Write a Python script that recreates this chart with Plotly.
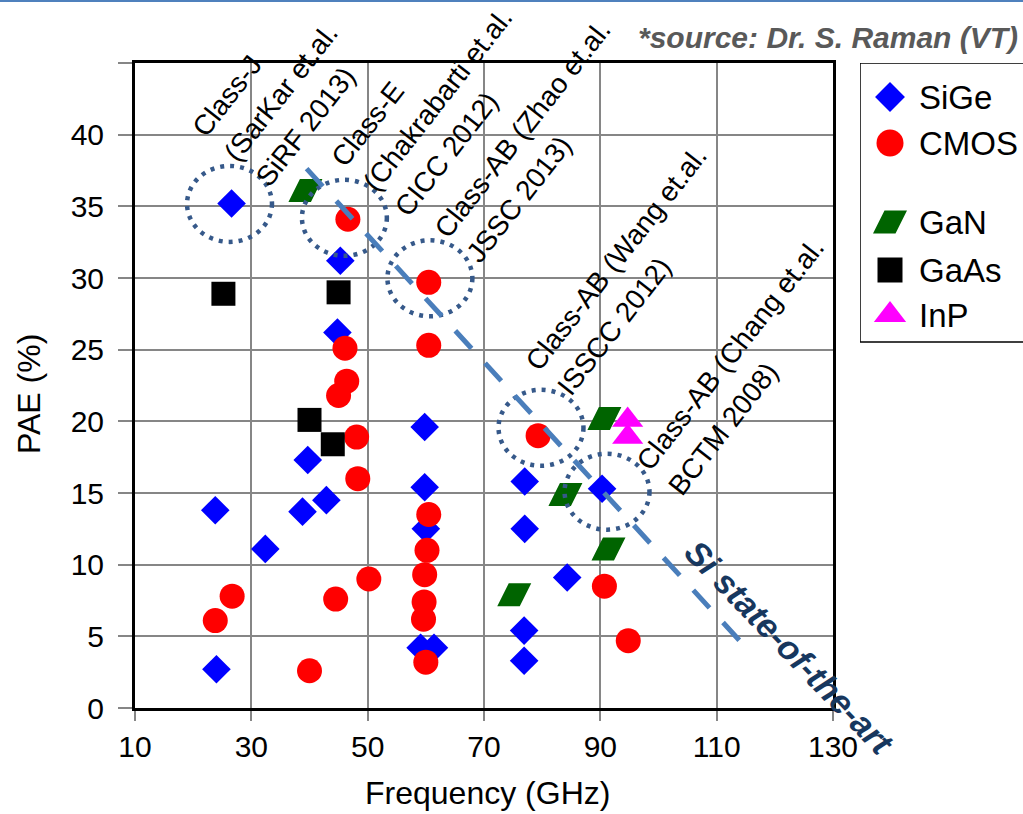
import plotly.graph_objects as go

# ---------------- data ----------------
sige_x = [9.9, 26.6, 45.3, 44.8, 59.8, 39.7, 23.8, 38.8, 42.9, 32.4, 24.0, 59.8, 60.0, 59.1, 61.4, 77.0, 77.0, 84.3, 76.9, 76.9, 90.3]
sige_y = [31.9, 35.2, 31.2, 26.2, 19.6, 17.3, 13.8, 13.7, 14.5, 11.1, 2.7, 15.4, 12.5, 4.2, 4.2, 15.8, 12.5, 9.1, 5.4, 3.3, 15.3]

cmos_x = [9.9, 46.6, 46.1, 46.4, 45.0, 48.1, 48.3, 60.5, 60.2, 59.8, 59.7, 59.6, 60.0, 50.2, 44.5, 26.7, 23.8, 40.0, 60.5, 60.5, 79.3, 90.7, 94.8]
cmos_y = [18.6, 34.1, 25.1, 22.8, 21.8, 18.9, 16.0, 13.5, 11.0, 9.3, 7.4, 6.2, 3.2, 9.0, 7.6, 7.8, 6.1, 2.6, 29.7, 25.3, 19.0, 8.5, 4.7]

gan_x = [39.3, 90.7, 84.0, 91.4, 75.2]
gan_y = [36.1, 20.2, 14.9, 11.1, 7.9]

gaas_x = [25.2, 45.0, 40.0, 44.0]
gaas_y = [28.9, 29.0, 20.1, 18.4]

inp_x = [94.7, 94.7]
inp_y = [20.1, 18.9]

x_ticks = [10, 30, 50, 70, 90, 110, 130]
y_ticks = [0, 5, 10, 15, 20, 25, 30, 35, 40, 45]
y_ticktext = ["0", "5", "10", "15", "20", "25", "30", "35", "40", ""]

legend_names = ["SiGe", "CMOS", "GaN", "GaAs", "InP"]

# highlighted designs (circle centres) and labels
hl_x = [26.25, 46.0, 60.7, 79.8, 91.15]
hl_y = [35.17, 34.2, 29.98, 19.55, 15.09]
lab_text = [
    "Class-J<br>(SarKar et.al.<br>SiRF 2013)",
    "Class-E<br>(Chakrabarti et.al.<br>CICC 2012)",
    "Class-AB (Zhao et.al.<br>JSSC 2013)",
    "Class-AB (Wang et.al.<br>ISSCC 2012)",
    "Class-AB (Chang et.al.<br>BCTM 2008)",
]
lab_x = [35.1, 62.1, 79.3, 95.5, 115.1]
lab_y = [42.9, 42.4, 39.55, 30.5, 23.8]

# state-of-the-art trend line end points
sota_x = [39.5, 115.3]
sota_y = [37.63, 4.1]

# ---------------- layout constants ----------------
W, H = 1023, 814
L, R, T, B = 135, 0, 63, 106
PLOT_W = 698          # px width of main plot
PAPER_W = W - L - R
X_RANGE = [10, 130]
Y_RANGE = [0, 45]
KX = PLOT_W / (X_RANGE[1] - X_RANGE[0])
KY = (H - T - B) / (Y_RANGE[1] - Y_RANGE[0])

FONT = "Liberation Sans, Arial, sans-serif"
GRID = "#868686"
C_SIGE, C_CMOS, C_GAN, C_GAAS, C_INP = "#0000FF", "#FF0000", "#006400", "#000000", "#FF00FF"


def para(xs, ys, kx, ky, sign=1):
    """parallelogram outline around each point (px offsets converted to axis units)"""
    px, py = [], []
    for x, y in zip(xs, ys):
        pts = [(-5.5, 11.5), (17, 11.5), (5.5, -11.5), (-17, -11.5), (-5.5, 11.5)]
        for dx, dy in pts:
            px.append(x + dx / kx)
            py.append(y + sign * dy / ky)
        px.append(None)
        py.append(None)
    return px, py


fig = go.Figure()

fig.add_trace(go.Scatter(x=sige_x, y=sige_y, mode="markers", name="SiGe",
                         marker=dict(symbol="diamond", size=22, color=C_SIGE, line=dict(width=0)),
                         cliponaxis=False, showlegend=False))
fig.add_trace(go.Scatter(x=cmos_x, y=cmos_y, mode="markers", name="CMOS",
                         marker=dict(symbol="circle", size=25, color=C_CMOS, line=dict(width=0)),
                         cliponaxis=False, showlegend=False))
gx, gy = para(gan_x, gan_y, KX, KY)
fig.add_trace(go.Scatter(x=gx, y=gy, mode="lines", fill="toself", fillcolor=C_GAN,
                         line=dict(width=0, color=C_GAN), name="GaN", showlegend=False,
                         hoverinfo="skip"))
fig.add_trace(go.Scatter(x=gaas_x, y=gaas_y, mode="markers", name="GaAs",
                         marker=dict(symbol="square", size=24, color=C_GAAS, line=dict(width=0)),
                         cliponaxis=False, showlegend=False))
fig.add_trace(go.Scatter(x=inp_x, y=inp_y, mode="markers", name="InP",
                         marker=dict(symbol="triangle-up", size=27, color=C_INP, line=dict(width=0)),
                         cliponaxis=False, showlegend=False))

# ---------------- legend (drawn on an overlay axis in pixel units) ----------------
LEG_X = 890
LEG_Y = [97, 143, 222, 270, 315]
fig.add_trace(go.Scatter(x=[LEG_X], y=[LEG_Y[0]], xaxis="x2", yaxis="y2", mode="markers",
                         marker=dict(symbol="diamond", size=23, color=C_SIGE), showlegend=False,
                         cliponaxis=False, hoverinfo="skip"))
fig.add_trace(go.Scatter(x=[LEG_X], y=[LEG_Y[1]], xaxis="x2", yaxis="y2", mode="markers",
                         marker=dict(symbol="circle", size=27, color=C_CMOS), showlegend=False,
                         cliponaxis=False, hoverinfo="skip"))
lgx, lgy = para([LEG_X], [LEG_Y[2]], 1.0, 1.0, sign=-1)
fig.add_trace(go.Scatter(x=lgx, y=lgy, xaxis="x2", yaxis="y2", mode="lines", fill="toself",
                         fillcolor=C_GAN, line=dict(width=0, color=C_GAN), showlegend=False,
                         hoverinfo="skip"))
fig.add_trace(go.Scatter(x=[LEG_X], y=[LEG_Y[3]], xaxis="x2", yaxis="y2", mode="markers",
                         marker=dict(symbol="square", size=25, color=C_GAAS), showlegend=False,
                         cliponaxis=False, hoverinfo="skip"))
fig.add_trace(go.Scatter(x=[LEG_X], y=[LEG_Y[4]], xaxis="x2", yaxis="y2", mode="markers",
                         marker=dict(symbol="triangle-up", size=28, color=C_INP), showlegend=False,
                         cliponaxis=False, hoverinfo="skip"))

annotations = []
for name, ly in zip(legend_names, LEG_Y):
    annotations.append(dict(x=917, y=ly, xref="x2", yref="y2", text=name, showarrow=False,
                            xanchor="left", yanchor="middle", font=dict(size=33, color="black")))

shapes = []
shapes.append(dict(type="rect", xref="x2", yref="y2", x0=860, x1=1040, y0=63, y1=342,
                   line=dict(color="black", width=1.5), fillcolor="rgba(0,0,0,0)", layer="above"))

# dotted highlight circles
RX, RY = 7.3, 2.65
for cx, cy in zip(hl_x, hl_y):
    shapes.append(dict(type="circle", xref="x", yref="y", x0=cx - RX, x1=cx + RX,
                       y0=cy - RY, y1=cy + RY, layer="above",
                       line=dict(color="#36598a", width=4.5, dash="4px,6px")))

# state-of-the-art dashed line
shapes.append(dict(type="line", xref="x", yref="y", x0=sota_x[0], y0=sota_y[0],
                   x1=sota_x[1], y1=sota_y[1], layer="above",
                   line=dict(color="#4a7ebb", width=5, dash="24px,20px")))

# top blue rule
shapes.append(dict(type="line", xref="paper", yref="paper", x0=-L / PAPER_W, x1=1.0,
                   y0=(H - B - 1) / (H - T - B), y1=(H - B - 1) / (H - T - B),
                   line=dict(color="#4f81bd", width=2)))

for t, x, y in zip(lab_text, lab_x, lab_y):
    txt = "<br>".join('<span style="font-size:28px">%s</span>' % s for s in t.split("<br>"))
    annotations.append(dict(x=x, y=y, xref="x", yref="y", text=txt, showarrow=False,
                            textangle=-52, align="left", xanchor="center", yanchor="middle",
                            font=dict(size=31, color="black")))

annotations.append(dict(x=122.6, y=4.2, xref="x", yref="y", text="<b><i>Si state-of-the-art</i></b>",
                        showarrow=False, textangle=46, xanchor="center", yanchor="middle",
                        font=dict(size=34, color="#17375E")))

annotations.append(dict(x=(1020 - L) / PAPER_W, y=(H - B - 38) / (H - T - B), xref="paper", yref="paper",
                        text="<b><i>*source: Dr. S. Raman (VT)</i></b>", showarrow=False,
                        xanchor="right", yanchor="middle", font=dict(size=30, color="#595959")))

annotations.append(dict(x=(487 - L) / PAPER_W, y=(H - B - 793) / (H - T - B), xref="paper", yref="paper",
                        text="Frequency (GHz)", showarrow=False, xanchor="center", yanchor="middle",
                        font=dict(size=32, color="black")))
annotations.append(dict(x=(29 - L) / PAPER_W, y=(H - B - 394) / (H - T - B), xref="paper", yref="paper",
                        text="PAE (%)", showarrow=False, textangle=-90, xanchor="center", yanchor="middle",
                        font=dict(size=32, color="black")))

fig.update_layout(
    width=W, height=H, autosize=False,
    margin=dict(l=L, r=R, t=T, b=B, pad=0, autoexpand=False),
    paper_bgcolor="white", plot_bgcolor="white",
    font=dict(family=FONT, color="black"),
    showlegend=False,
    xaxis=dict(domain=[0, PLOT_W / PAPER_W], range=X_RANGE, tickvals=x_ticks, automargin=False,
               showgrid=True, gridcolor=GRID, gridwidth=2, zeroline=False,
               showline=True, linecolor="black", linewidth=3, mirror=True,
               ticks="outside", ticklen=10, tickwidth=2, tickcolor=GRID,
               tickfont=dict(size=30, color="black"), anchor="y"),
    yaxis=dict(range=Y_RANGE, tickvals=y_ticks, ticktext=y_ticktext, automargin=False,
               showgrid=True, gridcolor=GRID, gridwidth=2, zeroline=False,
               showline=True, linecolor="black", linewidth=3, mirror=True,
               ticks="outside", ticklen=14, tickwidth=2, tickcolor=GRID, ticklabelstandoff=8,
               tickfont=dict(size=30, color="black"), anchor="x"),
    xaxis2=dict(domain=[(860 - L) / PAPER_W, 1.0], range=[860, W], visible=False, anchor="y2",
                automargin=False),
    yaxis2=dict(domain=[0, 1], range=[H - B, T], visible=False, anchor="x2", automargin=False),
    shapes=shapes,
    annotations=annotations,
)

fig.write_html("out.html")
